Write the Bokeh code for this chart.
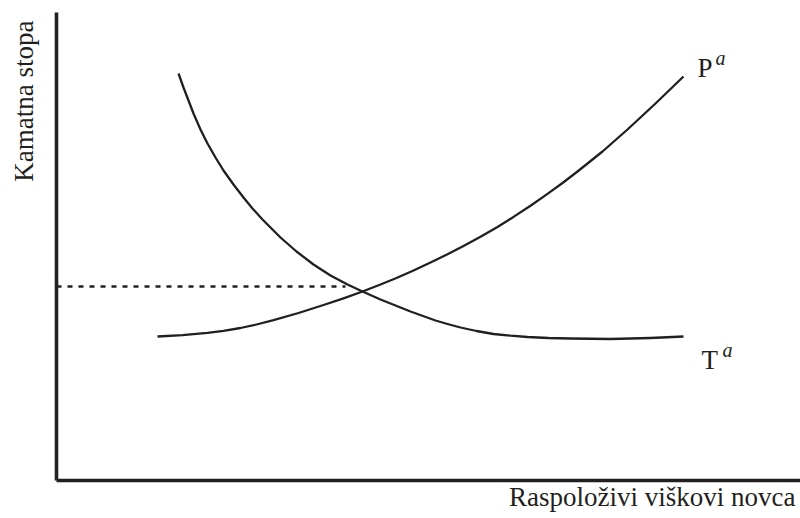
import math
from bokeh.plotting import figure
from bokeh.models import Range1d, FixedTicker, Label
from bokeh.embed import file_html
from bokeh.resources import INLINE

# Arbitrary units (no numeric scale on the original chart)
# Demand curve T^a
t_x = [122, 127, 132, 137, 144, 151, 159, 167, 177, 187, 196, 206, 215, 224,
       240, 257, 274, 291, 306, 324, 339, 354, 379, 391, 404, 420, 437, 454,
       471, 492, 514, 554, 594, 627]
t_y = [407, 393, 380, 367, 351, 337, 323, 310, 296, 283, 272, 261, 252, 243,
       229, 216, 205, 196, 189, 181, 175, 169, 160, 156.5, 153, 149.5, 146.5,
       144.8, 143.5, 142.5, 142, 141.5, 142.5, 144]

# Supply curve P^a
p_x = [101, 126, 151, 167, 184, 200, 217, 242, 267, 287, 306, 324, 340, 357,
       374, 391, 407, 424, 441, 457, 474, 491, 506, 521, 546, 571, 599, 627]
p_y = [144, 145.3, 147.6, 149.6, 152.5, 156, 160.4, 167.5, 175.5, 182.2, 189,
       196, 202.5, 210, 218, 226.2, 234.5, 243.8, 253.6, 263.6, 274.8, 286.6,
       297.5, 309, 329, 351, 377, 404]

# Equilibrium interest rate guide line
eq_x = [0, 289]
eq_y = [194, 194]

X_MAX, Y_MAX = 744, 468

INK = "#231f20"
SERIF = "Liberation Serif"

p = figure(width=800, height=518, output_backend="svg", toolbar_location=None,
           x_range=Range1d(-56, X_MAX), y_range=Range1d(-38, Y_MAX + 12),
           min_border_left=0, min_border_right=0, min_border_top=0,
           min_border_bottom=0)
p.outline_line_color = None
p.xgrid.visible = False
p.ygrid.visible = False
for ax, bnd in ((p.xaxis[0], (0, X_MAX)), (p.yaxis[0], (0, Y_MAX))):
    ax.fixed_location = 0
    ax.bounds = bnd
    ax.ticker = FixedTicker(ticks=[])
    ax.axis_line_width = 3.6
    ax.axis_line_color = INK
    ax.major_tick_line_color = None
    ax.minor_tick_line_color = None
    ax.major_tick_out = 0
    ax.major_tick_in = 0
    ax.major_label_standoff = 0
    ax.major_label_text_font_size = "0px"
    ax.axis_label = None

p.line(t_x, t_y, line_color=INK, line_width=2.3, line_join="round")
p.line(p_x, p_y, line_color=INK, line_width=2.3, line_join="round")
p.line(eq_x, eq_y, line_color=INK, line_width=2.3, line_dash="5 6")

# curve labels
p.add_layout(Label(x=641, y=413, text="P", text_font=SERIF,
                   text_font_size="27px", text_color=INK,
                   text_baseline="alphabetic"))
p.add_layout(Label(x=659, y=423, text="a", text_font=SERIF,
                   text_font_style="italic", text_font_size="20px",
                   text_color=INK, text_baseline="alphabetic"))
p.add_layout(Label(x=645, y=121, text="T", text_font=SERIF,
                   text_font_size="27px", text_color=INK,
                   text_baseline="alphabetic"))
p.add_layout(Label(x=666, y=131, text="a", text_font=SERIF,
                   text_font_style="italic", text_font_size="20px",
                   text_color=INK, text_baseline="alphabetic"))

# axis titles
p.add_layout(Label(x=739, y=-16, text="Raspoloživi viškovi novca",
                   text_font=SERIF, text_font_size="27px", text_color=INK,
                   text_align="right", text_baseline="alphabetic"))
p.add_layout(Label(x=-33, y=460, text="Kamatna stopa", angle=math.pi / 2,
                   text_font=SERIF, text_font_size="27px", text_color=INK,
                   text_align="right", text_baseline="alphabetic"))

open("out.html", "w").write(file_html(p, INLINE))
